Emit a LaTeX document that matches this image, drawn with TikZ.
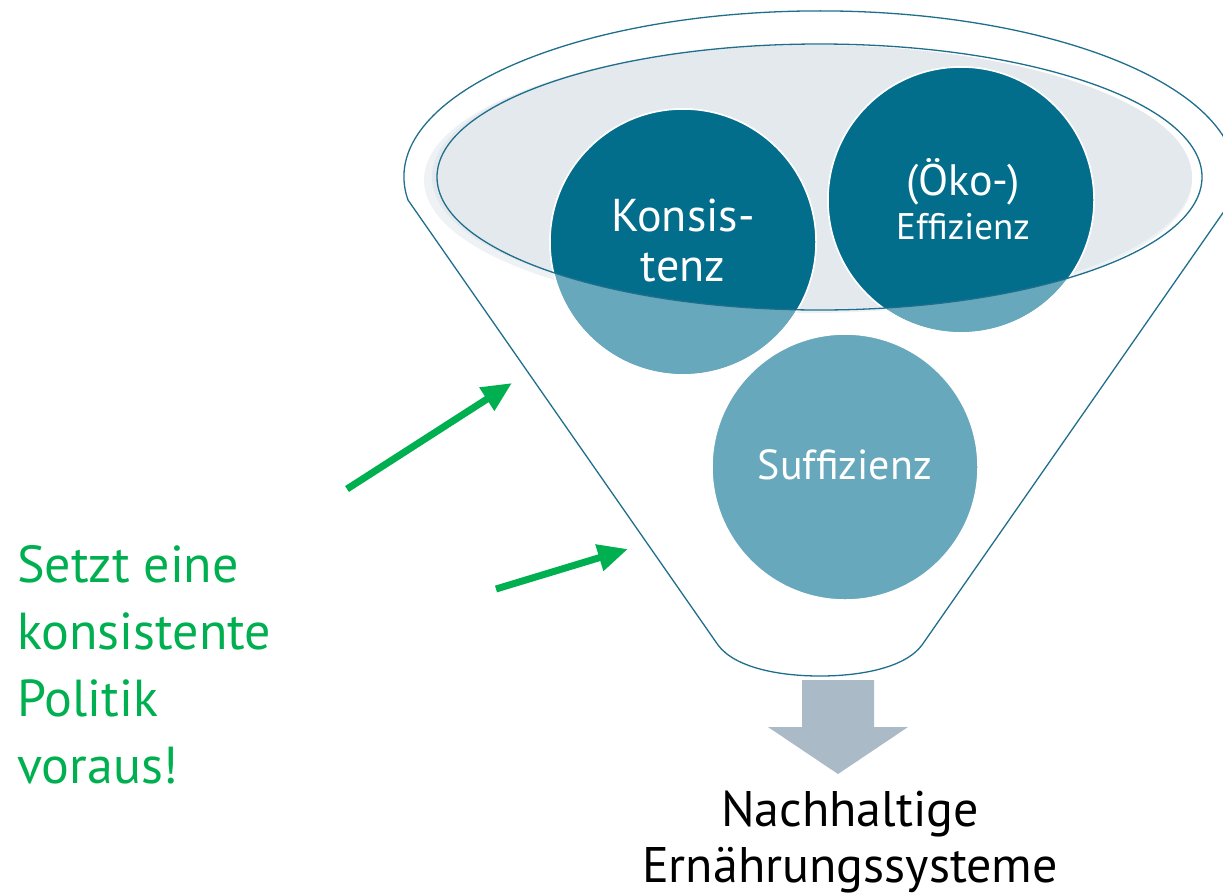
\documentclass[tikz,border=0pt]{standalone}
\usepackage{fontspec}
\setmainfont{PT Sans}
\usetikzlibrary{arrows.meta}
\usepackage{xcolor}
\definecolor{tealdark}{HTML}{036D8C}
\definecolor{teallight}{HTML}{67A8BD}
\definecolor{rimline}{HTML}{1F6E8C}
\definecolor{rimfill}{HTML}{E4E9ED}
\definecolor{rimshade}{HTML}{EEF2F5}
\definecolor{arrowgray}{HTML}{ABBAC7}
\definecolor{accentgreen}{HTML}{00B050}

\begin{document}
\begin{tikzpicture}[x=1pt, y=-1pt,
  bubble/.style={circle, fill=teallight, draw=white, line width=1.5pt,
                 minimum size=266pt, inner sep=0pt},
  bubbletext/.style={text=white, align=center, inner sep=0pt},
  greenarrow/.style={accentgreen, line width=7pt,
                     -{Triangle[length=30pt, width=26pt]}}]
  \clip (0,0) rectangle (1223,895);

  % Funnel rim (filled ellipse with shade)
  \fill[rimshade] (808,180) ellipse [x radius=384, y radius=133];
  \fill[rimfill]  (812,177) ellipse [x radius=380, y radius=132];

  % Funnel outline
  \draw[rimline, line width=1.3pt]
        (408,200) arc [start angle=172, end angle=368, x radius=416, y radius=166]
        -- (922,645) .. controls (905,668) and (860,676) .. (820,676)
        .. controls (780,676) and (735,668) .. (718,645) -- cycle;

  % Bubbles
  \node[bubble] (kons) at (683,242) {};
  \node[bubble] (effi) at (961,200) {};
  \node[bubble] (suff) at (845,467) {};

  % Dark part of the bubbles inside the rim
  \begin{scope}
    \clip (819.5,177) ellipse [x radius=382.5, y radius=133];
    \fill[tealdark] (kons) circle [radius=133];
    \fill[tealdark] (effi) circle [radius=133];
  \end{scope}
  \draw[white, line width=1.5pt] (kons) circle [radius=133];
  \draw[white, line width=1.5pt] (effi) circle [radius=133];
  \draw[rimline, line width=1.3pt] (819.5,177) ellipse [x radius=382.5, y radius=133];

  % Bubble labels
  \node[bubbletext, font=\fontsize{46}{50}\selectfont] (konslabel) at (683,240) {Konsis-\\tenz};
  \node[bubbletext, font=\fontsize{37}{44}\selectfont] (effilabel) at (963,199)
        {{\fontsize{44}{44}\selectfont(Öko-)}\\Effizienz};
  \node[bubbletext, font=\fontsize{42}{50}\selectfont] (sufflabel) at (845,465) {Suffizienz};

  % Output arrow
  \fill[arrowgray] (802,680) -- (874,680) -- (874,727) -- (908,727)
        -- (838,774) -- (768,727) -- (802,727) -- cycle;

  % Result
  \node[font=\fontsize{50}{56}\selectfont, align=center, anchor=north, inner sep=0pt]
        (result) at (850,791) {Nachhaltige\\Ernährungssysteme};

  % Policy note
  \node[font=\fontsize{52}{67}\selectfont, text=accentgreen, align=left,
        anchor=north west, inner sep=0pt]
        (policy) at (17,545) {Setzt eine\\konsistente\\Politik\\voraus!};

  % Green arrows
  \coordinate (arrowAtail) at (347,489);
  \coordinate (arrowAtip)  at (512,383);
  \coordinate (arrowBtail) at (496,589);
  \coordinate (arrowBtip)  at (628,549);
  \draw[greenarrow] (arrowAtail) -- (arrowAtip);
  \draw[greenarrow] (arrowBtail) -- (arrowBtip);
\end{tikzpicture}
\end{document}
